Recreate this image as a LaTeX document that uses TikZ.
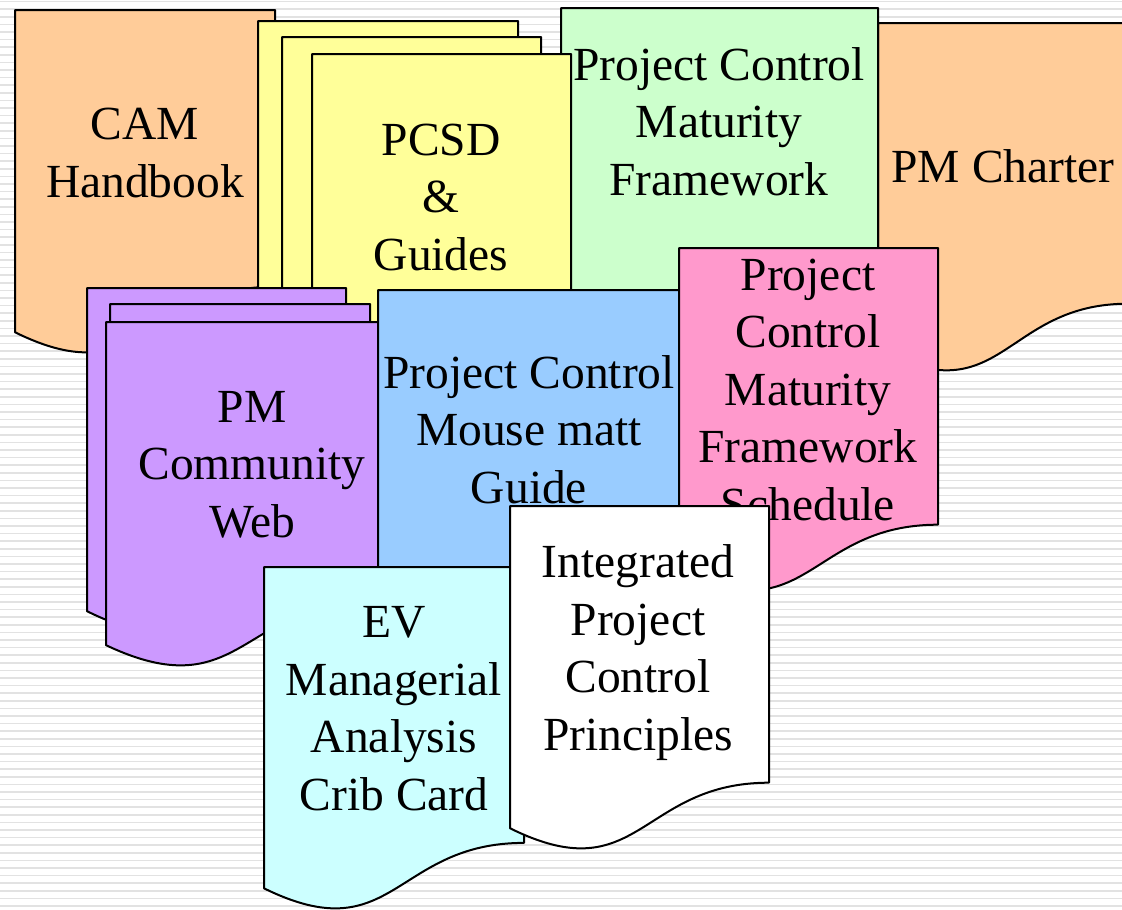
\documentclass[tikz,border=0pt]{standalone}
\usepackage{fontspec}
\setmainfont{Liberation Serif}
\definecolor{stripegray}{RGB}{226,226,226}
\definecolor{peach}{RGB}{255,204,153}
\definecolor{paleyellow}{RGB}{255,255,153}
\definecolor{palegreen}{RGB}{204,255,204}
\definecolor{lilac}{RGB}{204,153,255}
\definecolor{skyblue}{RGB}{153,204,255}
\definecolor{rosepink}{RGB}{255,153,204}
\definecolor{palecyan}{RGB}{204,255,255}

% document sheet with a wavy lower edge: left, top, width, height, fill
\newcommand\docsheet[5]{%
  \filldraw[docshape,fill=#5] (#1,#2) -- ({#1+#3},#2) -- ({#1+#3},{#2+0.802*#4})
    .. controls ({#1+0.5*#3},{#2+0.802*#4}) and ({#1+0.5*#3},{#2+1.12*#4}) ..
    (#1,{#2+0.934*#4}) -- cycle;}

% text blocks are placed by the baseline of their last line
\tikzset{
  docshape/.style={draw=black,line width=2pt,line join=round},
  doctext/.style={font=\fontsize{47.5}{57.5}\selectfont,align=center,anchor=base,inner sep=0pt},
  stripe/.style={draw=stripegray,line width=1.6pt}
}

\begin{document}
\begin{tikzpicture}[x=1pt,y=-1pt]
\useasboundingbox (0,0) rectangle (1122,910);
\clip (0,0) rectangle (1122,910);
\fill[white] (0,0) rectangle (1122,910);
\foreach \i in {0,...,119} {
  \draw[stripe] (0,{1.5+7.6*\i}) -- (1122,{1.5+7.6*\i});
}

% back row
\docsheet{15}{10}{260}{345}{peach}
\node[doctext] (cam) at (145,197) {CAM\\Handbook};
\docsheet{878}{23}{250}{350}{peach}
\node[doctext] (charter) at (1003,182) {PM Charter};
\docsheet{561}{8}{317}{345}{palegreen}
\node[doctext] (pcmf) at (719,195) {Project Control\\Maturity\\Framework};

% stack of guides
\docsheet{258}{21}{260}{345}{paleyellow}
\docsheet{282}{37}{259}{345}{paleyellow}
\docsheet{312}{54}{259}{345}{paleyellow}
\node[doctext] (pcsd) at (441,270) {PCSD\\\&\\Guides};

% community web stack
\docsheet{87}{288}{259}{346}{lilac}
\docsheet{110}{304}{260}{346}{lilac}
\docsheet{106}{322}{272}{346}{lilac}
\node[doctext] (web) at (252,537) {PM\\Community\\Web};

% middle row
\docsheet{378}{290}{303}{345}{skyblue}
\node[doctext] (mouse) at (529,503) {Project Control\\Mouse matt\\Guide};
\docsheet{679}{248}{259}{345}{rosepink}
\node[doctext] (sched) at (808,520) {Project\\Control\\Maturity\\Framework\\Schedule};

% front row
\docsheet{264}{567}{260}{344}{palecyan}
\node[doctext] (crib) at (394,810) {EV\\Managerial\\Analysis\\Crib Card};
\docsheet{510}{506}{259}{345}{white}
\node[doctext] (ipcp) at (638,750) {Integrated\\Project\\Control\\Principles};
\end{tikzpicture}
\end{document}
